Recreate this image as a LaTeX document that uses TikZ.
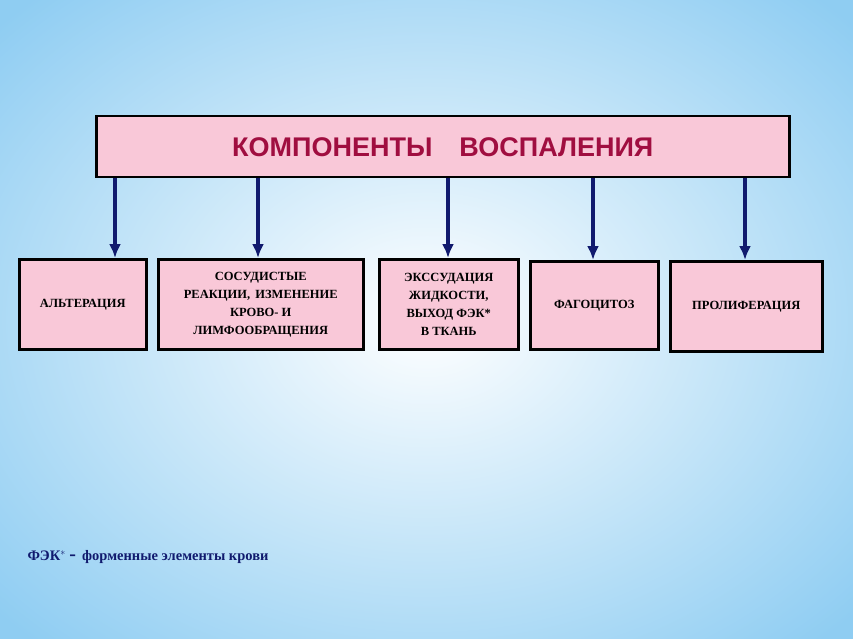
\documentclass[tikz,border=0pt]{standalone}
\usepackage{fontspec}
\usetikzlibrary{arrows.meta}
\setmainfont{Liberation Serif}
\newfontfamily\titlefont{Liberation Sans}
\definecolor{boxpink}{HTML}{F9C8D8}
\definecolor{arrowblue}{HTML}{101A6E}
\definecolor{titlered}{HTML}{A00E40}
\definecolor{bgblue}{HTML}{8FCDF2}
\begin{document}
\begin{tikzpicture}[x=1pt,y=-1pt,
  box/.style={draw=black,line width=2.5pt,fill=boxpink,inner sep=0pt,anchor=north west,align=center,font=\bfseries\fontsize{12.5}{18}\selectfont},
  arr/.style={draw=arrowblue,line width=4pt,-{Latex[length=14pt,width=12pt]}}]
\useasboundingbox (0,0) rectangle (853,639);
\shade[inner color=white,outer color=bgblue] (-150,-120) rectangle (1003,759);
\node[box,minimum width=693,minimum height=61,font=\titlefont\bfseries\fontsize{27}{30}\selectfont,text=titlered] (top) at (95,115) {КОМПОНЕНТЫ\quad ВОСПАЛЕНИЯ};
\node[box,minimum width=127,minimum height=90] (b1) at (18,258) {АЛЬТЕРАЦИЯ};
\node[box,minimum width=205,minimum height=90] (b2) at (157,258) {СОСУДИСТЫЕ\\РЕАКЦИИ,\, ИЗМЕНЕНИЕ\\КРОВО- И\\ЛИМФООБРАЩЕНИЯ};
\node[box,minimum width=139,minimum height=90] (b3) at (378,258) {ЭКССУДАЦИЯ\\ЖИДКОСТИ,\\ВЫХОД ФЭК*\\В ТКАНЬ};
\node[box,minimum width=128,minimum height=88] (b4) at (529,260) {ФАГОЦИТОЗ};
\node[box,minimum width=152,minimum height=90] (b5) at (669,260) {ПРОЛИФЕРАЦИЯ};
\draw[arr] (top.south -| 115,0) -- (b1.north -| 115,0);
\draw[arr] (top.south -| 258,0) -- (b2.north -| 258,0);
\draw[arr] (top.south -| 448,0) -- (b3.north -| 448,0);
\draw[arr] (top.south -| 593,0) -- (b4.north -| 593,0);
\draw[arr] (top.south -| 745,0) -- (b5.north -| 745,0);
\node[anchor=west,font=\bfseries\fontsize{14.5}{16}\selectfont,text=arrowblue] (note) at (24,557) {ФЭК$^{*}$ {\fontsize{20}{20}\selectfont -}\, форменные элементы крови};
\end{tikzpicture}
\end{document}
